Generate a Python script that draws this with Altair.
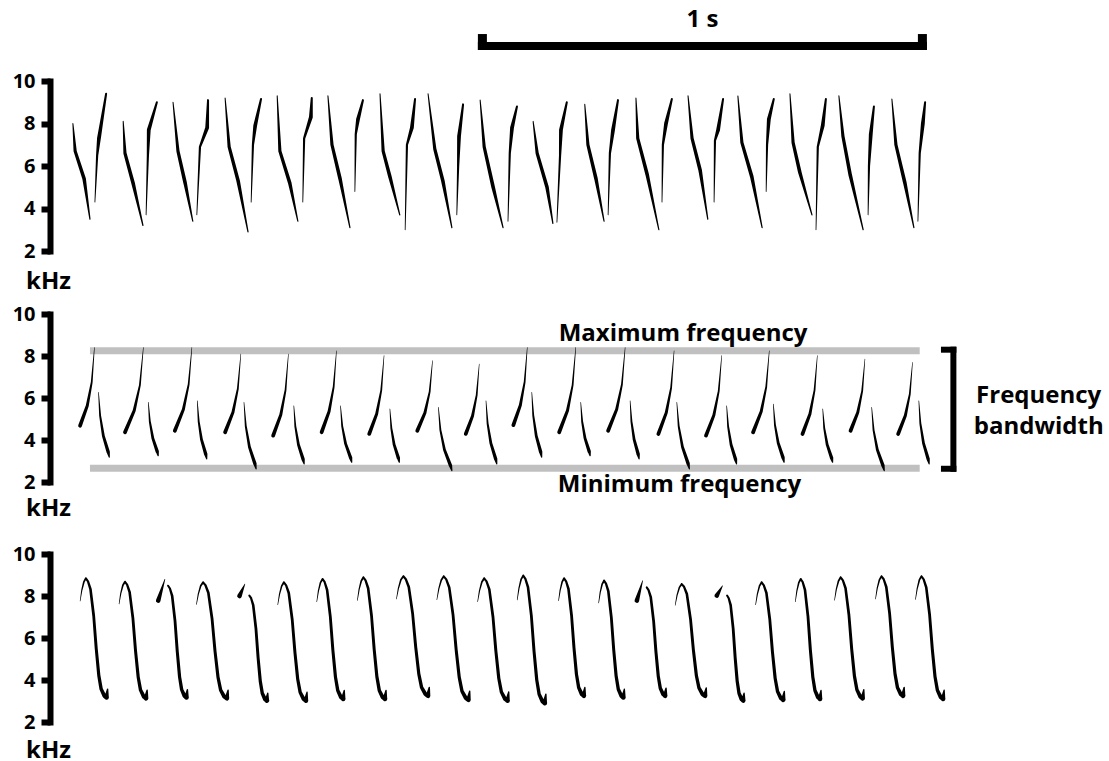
import altair as alt
import pandas as pd

FONT = "Open Sans"

# ---------------- data (time in ms, frequency in kHz) ----------------
TICKS = [2, 4, 6, 8, 10]
TIME_DOMAIN = [0, 2000]
FREQ_DOMAIN = [2, 10]

# Panel 1: each syllable = falling stroke + rising stroke (4 points each)
P1_DOWN_T = [[51, 56, 76, 89], [163, 167, 185, 207], [274, 285, 301, 318], [390, 399, 419, 441],
             [506, 512, 534, 552], [619, 628, 646, 668], [735, 742, 757, 779], [842, 857, 875, 895],
             [958, 967, 987, 1009], [1076, 1085, 1107, 1120], [1191, 1198, 1216, 1234],
             [1305, 1309, 1330, 1356], [1421, 1430, 1448, 1465], [1532, 1541, 1563, 1586],
             [1648, 1655, 1670, 1697], [1757, 1766, 1782, 1811], [1875, 1884, 1904, 1924]]
P1_DOWN_F = [[8.0, 6.7, 5.4, 3.5], [8.1, 6.6, 5.2, 3.2], [9.0, 6.7, 5.2, 3.4], [9.2, 6.9, 5.3, 2.9],
             [9.3, 6.7, 5.2, 3.4], [9.3, 7.0, 5.4, 3.1], [9.4, 6.7, 5.5, 3.7], [9.4, 6.8, 5.3, 3.1],
             [9.1, 6.9, 5.0, 3.1], [8.1, 6.6, 5.0, 3.3], [8.9, 7.0, 5.4, 3.4], [9.2, 7.3, 5.6, 3.0],
             [9.3, 7.3, 5.8, 3.5], [9.3, 7.1, 5.5, 3.1], [9.4, 7.1, 5.7, 3.7], [9.3, 7.4, 5.6, 3.0],
             [9.15, 7.0, 5.2, 3.1]]
P1_UP_T = [[100, 105, 109, 125], [214, 218, 220, 238], [327, 334, 350, 352], [448, 452, 457, 470],
           [563, 566, 581, 583], [679, 681, 686, 697], [791, 795, 806, 813], [906, 909, 911, 920],
           [1020, 1024, 1029, 1040], [1129, 1136, 1138, 1151], [1243, 1247, 1254, 1265],
           [1363, 1365, 1372, 1385], [1479, 1481, 1488, 1499], [1595, 1597, 1601, 1612],
           [1706, 1710, 1721, 1728], [1822, 1824, 1828, 1835], [1933, 1937, 1944, 1949]]
P1_UP_F = [[4.3, 6.5, 7.3, 9.4], [3.7, 6.5, 7.7, 9.0], [3.7, 6.9, 7.8, 9.1], [4.3, 7.0, 7.9, 9.15],
           [4.3, 7.3, 8.3, 9.2], [4.8, 7.5, 8.2, 9.1], [3.0, 7.0, 7.8, 9.15], [3.7, 6.0, 7.4, 8.9],
           [3.4, 6.6, 7.8, 8.8], [3.35, 6.5, 7.7, 9.0], [3.7, 6.6, 7.7, 9.1], [4.3, 7.0, 8.0, 9.15],
           [4.3, 7.2, 7.7, 9.15], [4.8, 7.0, 8.2, 9.15], [3.0, 6.9, 7.9, 9.15], [3.7, 6.0, 7.5, 8.8],
           [3.4, 6.6, 8.0, 9.0]]

# Panel 2: rising + falling strokes (start, end)
P2_RISE_T = [[67, 99], [167, 208], [278, 316], [390, 425], [497, 531], [605, 638], [711, 744],
             [818, 852], [926, 956], [1032, 1063], [1134, 1171], [1243, 1281], [1355, 1390],
             [1461, 1496], [1566, 1602], [1676, 1709], [1783, 1815], [1889, 1921]]
P2_RISE_F = [[4.68, 8.41], [4.37, 8.41], [4.44, 8.41], [4.37, 8.1], [4.21, 8.1], [4.37, 8.25],
             [4.29, 8.02], [4.44, 7.78], [4.29, 7.62], [4.71, 8.41], [4.37, 8.41], [4.44, 8.41],
             [4.29, 8.25], [4.21, 8.02], [4.37, 8.25], [4.29, 8.02], [4.44, 7.86], [4.29, 7.7]]
P2_FALL_T = [[108, 132], [219, 241], [328, 349], [432, 459], [543, 566], [647, 672], [757, 778],
             [865, 895], [971, 995], [1073, 1095], [1182, 1203], [1292, 1312], [1396, 1424],
             [1507, 1529], [1611, 1635], [1721, 1743], [1830, 1858], [1935, 1958]]
P2_FALL_F = [[6.27, 3.18], [5.8, 3.25], [5.87, 3.1], [5.8, 2.62], [5.63, 2.86], [5.63, 2.94],
             [5.48, 2.94], [5.56, 2.54], [5.87, 2.86], [6.27, 3.18], [5.8, 3.25], [5.87, 3.1],
             [5.8, 2.62], [5.63, 2.86], [5.71, 2.94], [5.48, 2.94], [5.56, 2.54], [5.87, 2.86]]
P2_MAX_F = 8.25
P2_MIN_F = 2.65
P2_GUIDE_T = [89, 1937]

# Panel 3: apex and lowest point of each hooked syllable
P3_APEX_T = [80, 167, 263, 341, 444, 521, 607, 698, 787, 877, 967, 1054, 1145, 1234, 1329, 1407,
             1508, 1585, 1672, 1761, 1852, 1941]
P3_APEX_F = [8.84, 8.68, 8.49, 8.65, 8.02, 8.65, 8.81, 8.89, 8.94, 8.94, 8.84, 8.97, 8.84, 8.73,
             8.41, 8.57, 8.02, 8.65, 8.81, 8.89, 8.94, 8.94]
P3_LOW_T = [126, 214, 304, 394, 483, 570, 653, 746, 842, 932, 1019, 1102, 1189, 1277, 1370, 1459,
            1544, 1633, 1715, 1810, 1900, 1989]
P3_LOW_F = [3.17, 3.13, 3.17, 3.13, 3.02, 3.02, 3.1, 3.1, 3.25, 3.06, 3.02, 2.9, 3.25, 3.17, 3.25,
            3.25, 3.02, 3.06, 3.1, 3.13, 3.25, 3.1]
P3_DETACHED = [2, 4, 14, 16]
P3_WEDGE_T = [[241, 256], [422, 434], [1307, 1320], [1485, 1498]]
P3_WEDGE_F = [[7.78, 8.8], [8.0, 8.57], [7.78, 8.73], [8.02, 8.49]]

# stroke outlines (fractions of each stroke's time / frequency span)
RISE_SHAPE_T = [0, 0.5, 0.81, 1]
RISE_SHAPE_F = [0, 0.255, 0.555, 1]
FALL_SHAPE_T = [0, 0.15, 0.45, 0.9, 1]
FALL_SHAPE_F = [1, 0.64, 0.33, 0.08, 0]
HOOK_SHAPE_T = [-0.28, -0.2, -0.1, 0, 0.1, 0.22, 0.376, 0.5, 0.625, 0.737, 0.89, 1.0, 1.05]
HOOK_SHAPE_F = [0.81, 0.9, 0.97, 1, 0.975, 0.91, 0.686, 0.407, 0.183, 0.07, 0.014, 0, 0.07]
HOOK_APEX_INDEX = 3

# annotations
SCALE_BAR_T = [953, 1953]
SCALE_BAR_F = 11.65
SCALE_CAP_F = [11.46, 12.21]
SCALE_LABEL = "1 s"
SCALE_LABEL_F = 12.53
BRACKET_T = [1991, 2012]
BRACKET_F = [2.63, 8.30]
TEXTS_P2 = ["Maximum frequency", "Minimum frequency", "Frequency", "bandwidth"]
TEXTS_P2_T = [1410, 1402, 2202, 2202]
TEXTS_P2_F = [8.73, 1.54, 5.76, 4.29]

# stroke width profiles (style)
W_P1_DOWN = [1.0, 3.2, 3.6, 1.2]
W_P1_UP = [0.8, 2.2, 3.8, 2.0]
W_P2_RISE = [3.8, 3.0, 1.8, 0.5]
W_P2_FALL = [0.6, 1.9, 2.8, 3.4, 1.2]
W_P3 = [0.6, 1.2, 1.7, 2.0, 2.2, 2.6, 2.8, 3.0, 3.2, 3.4, 4.0, 4.6, 1.4]
W_P3_WEDGE = [4.6, 0.6]

# ---------------- build tables ----------------
def add(rows, sid, ts, fs, ws):
    for k, (t, f, w) in enumerate(zip(ts, fs, ws)):
        rows.append({"id": sid, "k": k, "t": t, "f": f, "w": w})


rows1 = []
for i in range(len(P1_DOWN_T)):
    add(rows1, f"d{i}", P1_DOWN_T[i], P1_DOWN_F[i], W_P1_DOWN)
    add(rows1, f"u{i}", P1_UP_T[i], P1_UP_F[i], W_P1_UP)
df1 = pd.DataFrame(rows1)

rows2 = []
for i in range(len(P2_RISE_T)):
    t0, t1 = P2_RISE_T[i]
    f0, f1 = P2_RISE_F[i]
    add(rows2, f"r{i}", [t0 + a * (t1 - t0) for a in RISE_SHAPE_T],
        [f0 + b * (f1 - f0) for b in RISE_SHAPE_F], W_P2_RISE)
    t0, t1 = P2_FALL_T[i]
    f0, f1 = P2_FALL_F[i]
    add(rows2, f"f{i}", [t0 + a * (t1 - t0) for a in FALL_SHAPE_T],
        [f1 + b * (f0 - f1) for b in FALL_SHAPE_F], W_P2_FALL)
df2 = pd.DataFrame(rows2)

rows3 = []
for i in range(len(P3_APEX_T)):
    ta, tl = P3_APEX_T[i], P3_LOW_T[i]
    fa, fl = P3_APEX_F[i], P3_LOW_F[i]
    ts = [ta + a * (tl - ta) for a in HOOK_SHAPE_T]
    fs = [fl + b * (fa - fl) for b in HOOK_SHAPE_F]
    if i in P3_DETACHED:
        j = P3_DETACHED.index(i)
        a0 = HOOK_APEX_INDEX
        add(rows3, f"w{i}", P3_WEDGE_T[j], P3_WEDGE_F[j], W_P3_WEDGE)
        add(rows3, f"s{i}", ts[a0:], fs[a0:], W_P3[a0:])
    else:
        add(rows3, f"s{i}", ts, fs, W_P3)
df3 = pd.DataFrame(rows3)

# ---------------- chart ----------------
X_SCALE = alt.Scale(domain=TIME_DOMAIN, nice=False, zero=False)
Y_SCALE = alt.Scale(domain=FREQ_DOMAIN, nice=False, zero=False)
XN = dict(scale=X_SCALE, axis=None)


def yaxis(title_y):
    return alt.Axis(values=TICKS, format="d", title="kHz", titleAngle=0, titleX=-2,
                    titleY=title_y, titleAlign="center", titleBaseline="alphabetic", grid=False)


def strokes(df, ax):
    return alt.Chart(df).mark_trail(color="black").encode(
        x=alt.X("t:Q", **XN),
        y=alt.Y("f:Q", scale=Y_SCALE, axis=ax),
        detail="id:N",
        order=alt.Order("k:Q"),
        size=alt.Size("w:Q", scale=None, legend=None),
    )


def text_layer(ts, fs, labels, ax):
    return alt.Chart(pd.DataFrame({"t": ts, "f": fs, "s": labels})).mark_text(
        font=FONT, fontSize=24, fontWeight="bold", color="black", baseline="alphabetic", align="center"
    ).encode(x=alt.X("t:Q", **XN), y=alt.Y("f:Q", scale=Y_SCALE, axis=ax), text="s:N")


def spacer(h):
    return alt.Chart(pd.DataFrame({"t": [0]})).mark_point(opacity=0).encode(
        x=alt.X("t:Q", **XN), y=alt.value(0)).properties(width=898, height=h)


# panel 1 with the time scale bar
ax1 = yaxis(207)
bar = alt.Chart(pd.DataFrame({"t0": [SCALE_BAR_T[0]], "t1": [SCALE_BAR_T[1]], "f": [SCALE_BAR_F]})
                ).mark_rule(color="black", strokeWidth=8).encode(
    x=alt.X("t0:Q", **XN), x2="t1:Q", y=alt.Y("f:Q", scale=Y_SCALE, axis=ax1))
cap_df = pd.DataFrame({"t": SCALE_BAR_T, "f0": [SCALE_CAP_F[0]] * 2, "f1": [SCALE_CAP_F[1]] * 2})
cap_l = alt.Chart(cap_df.iloc[[0]]).mark_rule(color="black", strokeWidth=9, xOffset=4.5).encode(
    x=alt.X("t:Q", **XN), y=alt.Y("f0:Q", scale=Y_SCALE, axis=ax1), y2="f1:Q")
cap_r = alt.Chart(cap_df.iloc[[1]]).mark_rule(color="black", strokeWidth=9, xOffset=-4.5).encode(
    x=alt.X("t:Q", **XN), y=alt.Y("f0:Q", scale=Y_SCALE, axis=ax1), y2="f1:Q")
bar_label = text_layer([sum(SCALE_BAR_T) / 2], [SCALE_LABEL_F], [SCALE_LABEL], ax1)

p1 = alt.layer(strokes(df1, ax1), bar, cap_l, cap_r, bar_label).properties(width=898, height=170)

# panel 2 with frequency guides and bandwidth bracket
ax2 = yaxis(201.7)
guide_df = pd.DataFrame({"f": [P2_MAX_F, P2_MIN_F], "t0": [P2_GUIDE_T[0]] * 2, "t1": [P2_GUIDE_T[1]] * 2})
guides = alt.Chart(guide_df).mark_rule(color="#c0c0c0", strokeWidth=7).encode(
    x=alt.X("t0:Q", **XN), x2="t1:Q", y=alt.Y("f:Q", scale=Y_SCALE, axis=ax2))
br_v = alt.Chart(pd.DataFrame({"t": [BRACKET_T[1]], "f0": [BRACKET_F[0]], "f1": [BRACKET_F[1]]})
                 ).mark_rule(color="black", strokeWidth=6, strokeCap="square").encode(
    x=alt.X("t:Q", **XN), y=alt.Y("f0:Q", scale=Y_SCALE, axis=ax2), y2="f1:Q")
br_h = alt.Chart(pd.DataFrame({"t0": [BRACKET_T[0]] * 2, "t1": [BRACKET_T[1]] * 2, "f": BRACKET_F})
                 ).mark_rule(color="black", strokeWidth=6, strokeCap="square").encode(
    x=alt.X("t0:Q", **XN), x2="t1:Q", y=alt.Y("f:Q", scale=Y_SCALE, axis=ax2))
labels2 = text_layer(TEXTS_P2_T, TEXTS_P2_F, TEXTS_P2, ax2)

p2 = alt.layer(guides, strokes(df2, ax2), br_v, br_h, labels2).properties(width=898, height=168)

# panel 3
p3 = strokes(df3, yaxis(203)).properties(width=898, height=168)

chart = alt.vconcat(p1, spacer(63), p2, spacer(72), p3, spacing=0, bounds="flush").resolve_scale(
    x="independent", y="independent").properties(
    padding={"left": 12, "top": 8, "right": 0, "bottom": 0}, background="white"
).configure_view(stroke=None).configure_axis(
    domainColor="black", domainWidth=6, domainCap="square",
    tickColor="black", tickWidth=6, tickSize=9,
    labelFont=FONT, labelFontSize=20, labelFontWeight="bold", labelColor="black", labelPadding=6,
    titleFont=FONT, titleFontSize=24, titleFontWeight="bold", titleColor="black",
)

chart.save("out.html", embed_options={"renderer": "svg", "actions": False})
